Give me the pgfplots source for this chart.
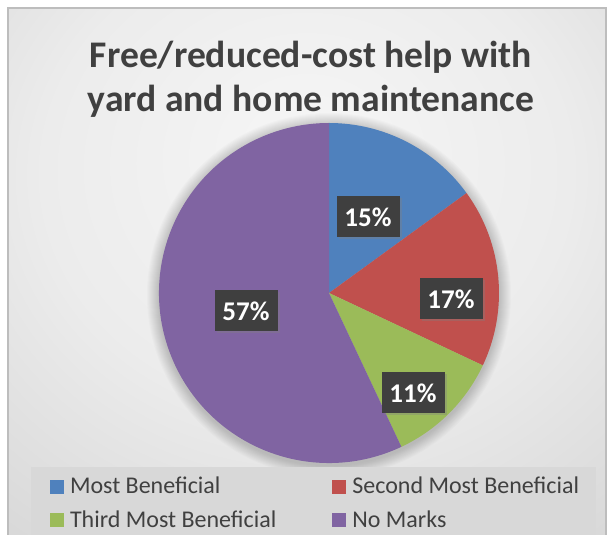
\documentclass[border=0pt]{standalone}
\usepackage{fontspec}
\setmainfont{Carlito}
\usepackage{pgfplots}
\pgfplotsset{compat=1.18}
\usetikzlibrary{shadows}
\definecolor{pblue}{HTML}{4F81BD}
\definecolor{pred}{HTML}{C0504D}
\definecolor{pgreen}{HTML}{9BBB59}
\definecolor{ppurple}{HTML}{8064A2}
\definecolor{labgray}{HTML}{3F3F3F}
\definecolor{txtgray}{HTML}{404040}
\definecolor{leggray}{HTML}{D8D8D8}
\definecolor{bordergray}{HTML}{BDBDBD}
\definecolor{bgA}{HTML}{F6F6F6}
\definecolor{bgB}{HTML}{ECECEC}
\definecolor{bgC}{HTML}{D4D4D4}
\definecolor{bgD}{HTML}{BEBEBE}
\pgfdeclareradialshading{bgshade}{\pgfpoint{0bp}{12bp}}{color(0bp)=(bgA); color(22bp)=(bgB); color(45bp)=(bgC); color(70bp)=(bgD); color(100bp)=(bgD)}
\begin{document}
\begin{tikzpicture}
\begin{axis}[
  x=1pt, y=1pt, scale only axis,
  xmin=0, xmax=608, ymin=0, ymax=535,
  hide axis, clip=false,
  legend columns=2,
  legend cell align=left,
  legend style={at={(axis cs:313.5,68)}, anchor=north, fill=leggray, draw=none,
    inner xsep=19pt, inner ysep=10pt, text=txtgray,
    font=\fontsize{24}{28}\selectfont,
    nodes={inner sep=0pt},
    /tikz/column sep=7pt, /tikz/row sep=15pt},
]
% background
\fill[white] (axis cs:0,0) rectangle (axis cs:608,535);
\shade[shading=bgshade] (axis cs:8,0) rectangle (axis cs:606,527);
\draw[bordergray, line width=1.2pt] (axis cs:8,0) -- (axis cs:8,527) -- (axis cs:606,527) -- (axis cs:606,0);
% pie shadow
\foreach \k in {1,...,12}{
  \pgfmathsetmacro\rr{170+\k}
  \edef\doit{\noexpand\fill[black, opacity=0.016] (axis cs:329,240) circle[radius=\rr pt];}
  \doit
}
% pie wedges (values in percent, clockwise from 12 o'clock)
\foreach \v/\c [remember=\e as \s (initially 90)] in {15/pblue,17/pred,11/pgreen,57/ppurple}{
  \pgfmathsetmacro\e{\s-3.6*\v}
  \edef\doit{\noexpand\fill[\c] (axis cs:329,242) -- ++(\s:170pt) arc[start angle=\s, end angle=\e, radius=170pt] -- cycle;}
  \doit
}
% data labels
\tikzset{lab/.style={fill=labgray, text=white, font=\bfseries\fontsize{27}{32}\selectfont,
  minimum width=63pt, minimum height=41pt, inner sep=0pt,
  drop shadow={opacity=0.35, shadow xshift=2pt, shadow yshift=-2pt}}}
\node[lab] at (axis cs:368,318) {15\%};
\node[lab] at (axis cs:451,236) {17\%};
\node[lab] at (axis cs:413,142) {11\%};
\node[lab] at (axis cs:246,224) {57\%};
% title
\node[font=\bfseries\fontsize{37.6}{44}\selectfont, align=center, text=txtgray] at (axis cs:311,456)
  {Free/reduced-cost help with\\yard and home maintenance};
% legend
\addlegendimage{legend image code/.code={\fill[pblue] (0pt,-6.5pt) rectangle (13pt,6.5pt);}}
\addlegendentry{\makebox[255pt][l]{Most Beneficial}}
\addlegendimage{legend image code/.code={\fill[pred] (0pt,-6.5pt) rectangle (13pt,6.5pt);}}
\addlegendentry{\makebox[225pt][l]{Second Most Beneficial}}
\addlegendimage{legend image code/.code={\fill[pgreen] (0pt,-6.5pt) rectangle (13pt,6.5pt);}}
\addlegendentry{\makebox[255pt][l]{Third Most Beneficial}}
\addlegendimage{legend image code/.code={\fill[ppurple] (0pt,-6.5pt) rectangle (13pt,6.5pt);}}
\addlegendentry{\makebox[225pt][l]{No Marks}}
\end{axis}
\pgfresetboundingbox
\useasboundingbox (0,0) rectangle (608pt,535pt);
\end{tikzpicture}
\end{document}
